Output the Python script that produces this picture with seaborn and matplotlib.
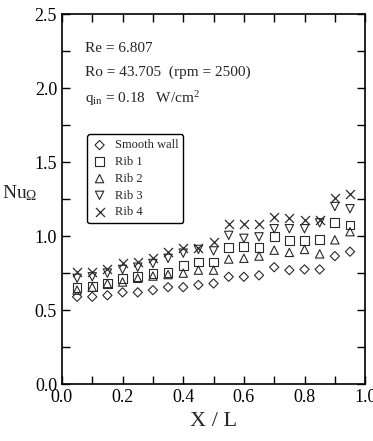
import numpy as np
import pandas as pd
import matplotlib
matplotlib.use("Agg")
import matplotlib.pyplot as plt
import seaborn as sns
from matplotlib.ticker import MultipleLocator

# values
x_over_l = [0.05, 0.10, 0.15, 0.20, 0.25, 0.30, 0.35, 0.40, 0.45, 0.50,
            0.55, 0.60, 0.65, 0.70, 0.75, 0.80, 0.85, 0.90, 0.95]
smooth_wall = [0.59, 0.59, 0.60, 0.62, 0.62, 0.635, 0.655, 0.655, 0.67, 0.68,
               0.725, 0.725, 0.735, 0.79, 0.77, 0.775, 0.775, 0.865, 0.895]
rib1 = [0.655, 0.66, 0.68, 0.715, 0.725, 0.75, 0.755, 0.80, 0.825, 0.825,
        0.925, 0.93, 0.925, 0.995, 0.97, 0.97, 0.975, 1.09, 1.075]
rib2 = [0.635, 0.655, 0.68, 0.69, 0.715, 0.73, 0.74, 0.75, 0.77, 0.77,
        0.845, 0.85, 0.865, 0.905, 0.89, 0.91, 0.88, 0.975, 1.03]
rib3 = [0.715, 0.725, 0.75, 0.775, 0.79, 0.815, 0.85, 0.885, 0.91, 0.90,
        1.005, 0.985, 0.995, 1.05, 1.05, 1.05, 1.09, 1.20, 1.185]
rib4 = [0.755, 0.76, 0.78, 0.815, 0.825, 0.85, 0.89, 0.92, 0.92, 0.96,
        1.08, 1.085, 1.085, 1.13, 1.12, 1.11, 1.11, 1.26, 1.285]

series_names = ["Smooth wall", "Rib 1", "Rib 2", "Rib 3", "Rib 4"]

df = pd.DataFrame({"X/L": x_over_l, "Smooth wall": smooth_wall,
                   "Rib 1": rib1, "Rib 2": rib2, "Rib 3": rib3, "Rib 4": rib4})

sns.set_style("ticks")
plt.rcParams["font.family"] = ["Liberation Serif", "DejaVu Serif"]
plt.rcParams["mathtext.fontset"] = "custom"
plt.rcParams["mathtext.rm"] = "Liberation Serif"
plt.rcParams["mathtext.it"] = "Liberation Serif:italic"

fig, ax = plt.subplots(figsize=(3.73, 4.41), dpi=100)
fig.subplots_adjust(left=0.166, right=0.979, top=0.968, bottom=0.129)

ink = "#2a2a2a"
styles = {"Smooth wall": ("D", 22), "Rib 1": ("s", 40), "Rib 2": ("^", 36),
          "Rib 3": ("v", 36), "Rib 4": ("x", 42)}

for name in series_names:
    marker, size = styles[name]
    if marker == "x":
        sns.scatterplot(data=df, x="X/L", y=name, marker=marker, s=size,
                        color=ink, linewidth=0.9, label=name, ax=ax)
    else:
        sns.scatterplot(data=df, x="X/L", y=name, marker=marker, s=size,
                        facecolors="none", edgecolor=ink, linewidth=0.8,
                        label=name, ax=ax)

ax.set_xlim(0, 1.0)
ax.set_ylim(0, 2.5)
ax.xaxis.set_major_locator(MultipleLocator(0.2))
ax.xaxis.set_minor_locator(MultipleLocator(0.1))
ax.yaxis.set_major_locator(MultipleLocator(0.5))
ax.yaxis.set_minor_locator(MultipleLocator(0.25))
ax.tick_params(which="both", direction="in", top=True, right=True,
               labelsize=13, colors="black")
ax.tick_params(which="major", length=6, width=1)
ax.tick_params(which="minor", length=6, width=1)
ax.xaxis.set_major_formatter(matplotlib.ticker.FormatStrFormatter("%.1f"))
ax.yaxis.set_major_formatter(matplotlib.ticker.FormatStrFormatter("%.1f"))
for sp in ax.spines.values():
    sp.set_linewidth(1.2)
    sp.set_color("black")

ax.set_xlabel("X / L", fontsize=16, labelpad=4)
ax.set_ylabel(r"$\mathrm{Nu}_{\Omega}$", fontsize=14, rotation=0, labelpad=12)
ax.yaxis.set_label_coords(-0.14, 0.49)

ax.text(0.075, 0.908, "Re = 6.807", transform=ax.transAxes, fontsize=11,
        va="center")
ax.text(0.075, 0.843, "Ro = 43.705  (rpm = 2500)", transform=ax.transAxes,
        fontsize=11, va="center")
ax.text(0.075, 0.772, r"q$_{\rm in}$ = 0.18   W/cm$^2$", transform=ax.transAxes,
        fontsize=11, va="center")

leg = ax.legend(loc="upper left", bbox_to_anchor=(0.083, 0.675), fontsize=9,
                frameon=True, fancybox=True, labelspacing=0.38,
                handletextpad=0.6, borderpad=0.4, handlelength=1.2,
                borderaxespad=0)
leg.get_frame().set_edgecolor("black")
leg.get_frame().set_linewidth(1.0)
leg.get_frame().set_alpha(1)

fig.savefig("out.png", dpi=100)
